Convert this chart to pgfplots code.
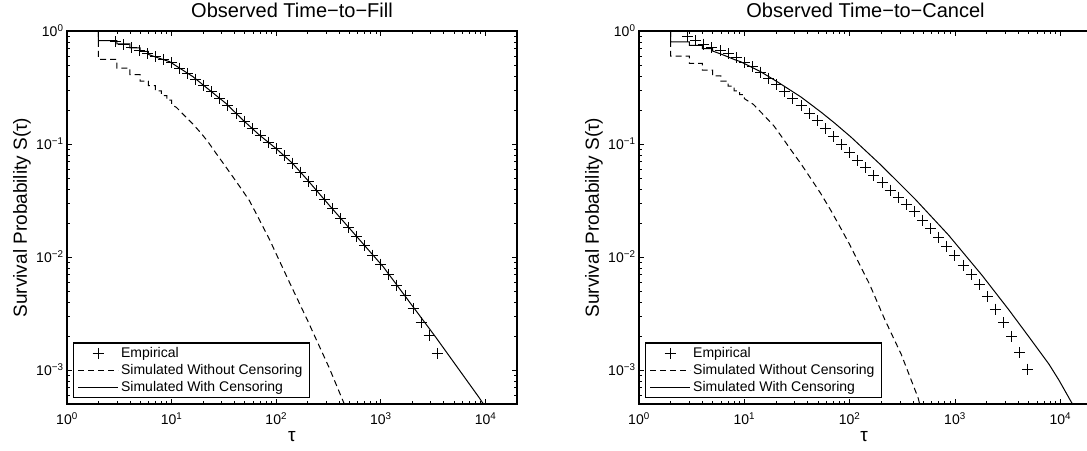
\documentclass[border=0pt]{standalone}
\usepackage{fontspec}
\setmainfont{Liberation Sans}
\usepackage{pgfplots}
\pgfplotsset{compat=1.18}
\pgfplotsset{
  legend image code/.code={\draw[mark repeat=2,mark phase=2,#1] plot coordinates {(0pt,0pt)(20pt,0pt)(40pt,0pt)};},
}
\newcommand{\lf}{\fontsize{14}{16}\selectfont}
\begin{document}
\begin{tikzpicture}
\useasboundingbox (0,0) rectangle (1087pt,450pt);
\begin{axis}[at={(67pt,46pt)}, anchor=south west, title={Observed Time−to−Fill}, width=450pt, height=373pt, scale only axis,
    xmode=log, ymode=log, xmin=1, xmax=20000, ymin=5e-4, ymax=1,
    axis line style={line width=1.1pt},
    tick style={black, line width=0.8pt},
    major tick length=5pt, minor tick length=3pt,
    xtick={1,10,100,1000,10000},
    xticklabels={10\textsuperscript{0},10\textsuperscript{1},10\textsuperscript{2},10\textsuperscript{3},10\textsuperscript{4}},
    minor xtick={2,3,4,5,6,7,8,9,20,30,40,50,60,70,80,90,200,300,400,500,600,700,800,900,2000,3000,4000,5000,6000,7000,8000,9000,20000},
    ytick={0.001,0.01,0.1,1},
    yticklabels={10\textsuperscript{−3},10\textsuperscript{−2},10\textsuperscript{−1},10\textsuperscript{0}},
    minor ytick={0.0006,0.0007,0.0008,0.0009,0.002,0.003,0.004,0.005,0.006,0.007,0.008,0.009,0.02,0.03,0.04,0.05,0.06,0.07,0.08,0.09,0.2,0.3,0.4,0.5,0.6,0.7,0.8,0.9},
    ticklabel style={font=\fontsize{14}{16}\selectfont},
    xticklabel style={yshift=-5pt},
    label style={font=\fontsize{19}{22}\selectfont},
    title style={font=\fontsize{20}{24}\selectfont, at={(0.5,1)}, anchor=base, yshift=7pt},
    xlabel={τ}, ylabel={Survival Probability S(τ)},
    xlabel style={at={(axis description cs:0.5,-0.088)}, anchor=center},
    ylabel style={at={(axis description cs:-0.1,0.5)}, anchor=center},
    legend style={at={(axis description cs:0.0133,0.016)}, anchor=south west, draw=black, line width=1.1pt,
      font=\lf, inner xsep=4pt, inner ysep=2pt, row sep=0pt,
      cells={anchor=west}, nodes={inner sep=2.6pt, font=\lf}},
    reverse legend]
\addplot[black, line width=1pt] coordinates {(2,1)(2,0.82)(3,0.82)(3,0.77)(4,0.77)(4,0.71)(5,0.71)(5,0.66)(6,0.66)(6,0.62)(7,0.59)(8,0.565)(9.57,0.535)(16,0.394)(23,0.30)(33,0.229)(48,0.163)(69,0.12)(99,0.0916)(143,0.0675)(199,0.048)(320,0.0288)(1052,0.0082)(3319,0.00197)(8570,0.00058)(9550,0.0005)};
\addplot[black, line width=1pt, dash pattern=on 6pt off 4pt] coordinates {(2,1)(2,0.56)(3,0.56)(3,0.47)(4,0.47)(4,0.41)(5,0.41)(5,0.36)(6,0.36)(6,0.328)(7,0.328)(7,0.295)(8,0.295)(8,0.268)(9,0.268)(9,0.244)(10,0.244)(10,0.222)(11.1,0.211)(13.3,0.178)(16.0,0.150)(19.2,0.124)(22.2,0.105)(26.6,0.0826)(32.0,0.0652)(38.4,0.0514)(46.0,0.0405)(55.3,0.0316)(66.4,0.0229)(85.7,0.01445)(133,0.00603)(199,0.00275)(320,0.00105)(447,0.0005)};
\addplot[only marks, mark=+, mark size=5.5pt, line width=1pt, black] coordinates {(2.894,0.802)(3.455,0.755)(4.125,0.711)(4.924,0.670)(5.878,0.631)(7.017,0.594)(8.377,0.560)(10,0.522)(11.94,0.470)(14.25,0.422)(17.01,0.376)(20.31,0.330)(24.24,0.289)(28.94,0.2535)(34.55,0.221)(41.25,0.187)(49.24,0.159)(58.78,0.137)(70.17,0.1186)(83.77,0.104)(100,0.0910)(119.4,0.0785)(142.5,0.0676)(170.1,0.0564)(203.1,0.0469)(242.4,0.0388)(289.4,0.0321)(345.5,0.0266)(412.5,0.0220)(492.4,0.0183)(587.8,0.0152)(701.7,0.0126)(837.7,0.0104)(1000,0.00865)(1194,0.00702)(1425,0.00564)(1701,0.00452)(2031,0.00347)(2424,0.00263)(2894,0.00204)(3455,0.0014)};
\legend{{\lf Simulated With Censoring}, {\lf Simulated Without Censoring}, {\lf Empirical}}
\end{axis}
\begin{axis}[at={(639pt,46pt)}, anchor=south west, title={Observed Time−to−Cancel}, width=453pt, height=373pt, scale only axis,
    xmode=log, ymode=log, xmin=1, xmax=20000, ymin=5e-4, ymax=1,
    axis line style={line width=1.1pt},
    tick style={black, line width=0.8pt},
    major tick length=5pt, minor tick length=3pt,
    xtick={1,10,100,1000,10000},
    xticklabels={10\textsuperscript{0},10\textsuperscript{1},10\textsuperscript{2},10\textsuperscript{3},10\textsuperscript{4}},
    minor xtick={2,3,4,5,6,7,8,9,20,30,40,50,60,70,80,90,200,300,400,500,600,700,800,900,2000,3000,4000,5000,6000,7000,8000,9000,20000},
    ytick={0.001,0.01,0.1,1},
    yticklabels={10\textsuperscript{−3},10\textsuperscript{−2},10\textsuperscript{−1},10\textsuperscript{0}},
    minor ytick={0.0006,0.0007,0.0008,0.0009,0.002,0.003,0.004,0.005,0.006,0.007,0.008,0.009,0.02,0.03,0.04,0.05,0.06,0.07,0.08,0.09,0.2,0.3,0.4,0.5,0.6,0.7,0.8,0.9},
    ticklabel style={font=\fontsize{14}{16}\selectfont},
    xticklabel style={yshift=-5pt},
    label style={font=\fontsize{19}{22}\selectfont},
    title style={font=\fontsize{20}{24}\selectfont, at={(0.5,1)}, anchor=base, yshift=7pt},
    xlabel={τ}, ylabel={Survival Probability S(τ)},
    xlabel style={at={(axis description cs:0.497,-0.088)}, anchor=center},
    ylabel style={at={(axis description cs:-0.0993,0.5)}, anchor=center},
    legend style={at={(axis description cs:0.0133,0.016)}, anchor=south west, draw=black, line width=1.1pt,
      font=\lf, inner xsep=4pt, inner ysep=2pt, row sep=0pt,
      cells={anchor=west}, nodes={inner sep=2.6pt, font=\lf}},
    reverse legend]
\addplot[black, line width=1pt] coordinates {(2,1)(2,0.80)(3,0.80)(3,0.747)(4,0.747)(4,0.698)(5,0.698)(5,0.665)(6,0.625)(7,0.59)(8,0.56)(9.2,0.535)(14.3,0.436)(20.6,0.355)(34.4,0.261)(53.3,0.192)(71.6,0.1538)(103,0.1151)(200,0.0646)(416,0.0327)(865,0.0157)(1803,0.0069)(3236,0.00342)(5023,0.00197)(7798,0.001127)(9705,0.000813)(13030,0.0005)};
\addplot[black, line width=1pt, dash pattern=on 6pt off 4pt] coordinates {(2,1)(2,0.60)(3,0.60)(3,0.516)(4,0.516)(4,0.451)(5,0.451)(5,0.40)(6,0.40)(6,0.36)(7,0.36)(7,0.325)(8,0.325)(8,0.295)(9,0.295)(9,0.273)(10,0.273)(10,0.252)(12.2,0.224)(14.8,0.186)(19.1,0.1445)(23.0,0.1135)(27.6,0.0891)(34.4,0.0670)(42.9,0.0493)(53.3,0.0363)(66.5,0.0257)(82.8,0.0178)(99.5,0.0130)(154.5,0.00574)(215,0.00281)(309,0.001374)(447,0.000565)(462,0.0005)};
\addplot[only marks, mark=+, mark size=5.5pt, line width=1pt, black] coordinates {(2.894,0.889)(3.455,0.824)(4.125,0.764)(4.924,0.713)(5.878,0.668)(7.017,0.628)(8.377,0.577)(10,0.528)(11.94,0.484)(14.25,0.432)(17.01,0.383)(20.31,0.337)(24.24,0.292)(28.94,0.2535)(34.55,0.219)(41.25,0.188)(49.24,0.160)(58.78,0.1365)(70.17,0.116)(83.77,0.0989)(100,0.0841)(119.4,0.0720)(142.5,0.0617)(170.1,0.0527)(203.1,0.0452)(242.4,0.0391)(289.4,0.0338)(345.5,0.0292)(412.5,0.0253)(492.4,0.0212)(587.8,0.0178)(701.7,0.0149)(837.7,0.0125)(1000,0.0103)(1194,0.00845)(1425,0.00693)(1701,0.00569)(2031,0.00447)(2424,0.00346)(2894,0.00263)(3455,0.00199)(4125,0.00143)(4924,0.00102)};
\legend{{\lf Simulated With Censoring}, {\lf Simulated Without Censoring}, {\lf Empirical}}
\end{axis}
\end{tikzpicture}
\end{document}
